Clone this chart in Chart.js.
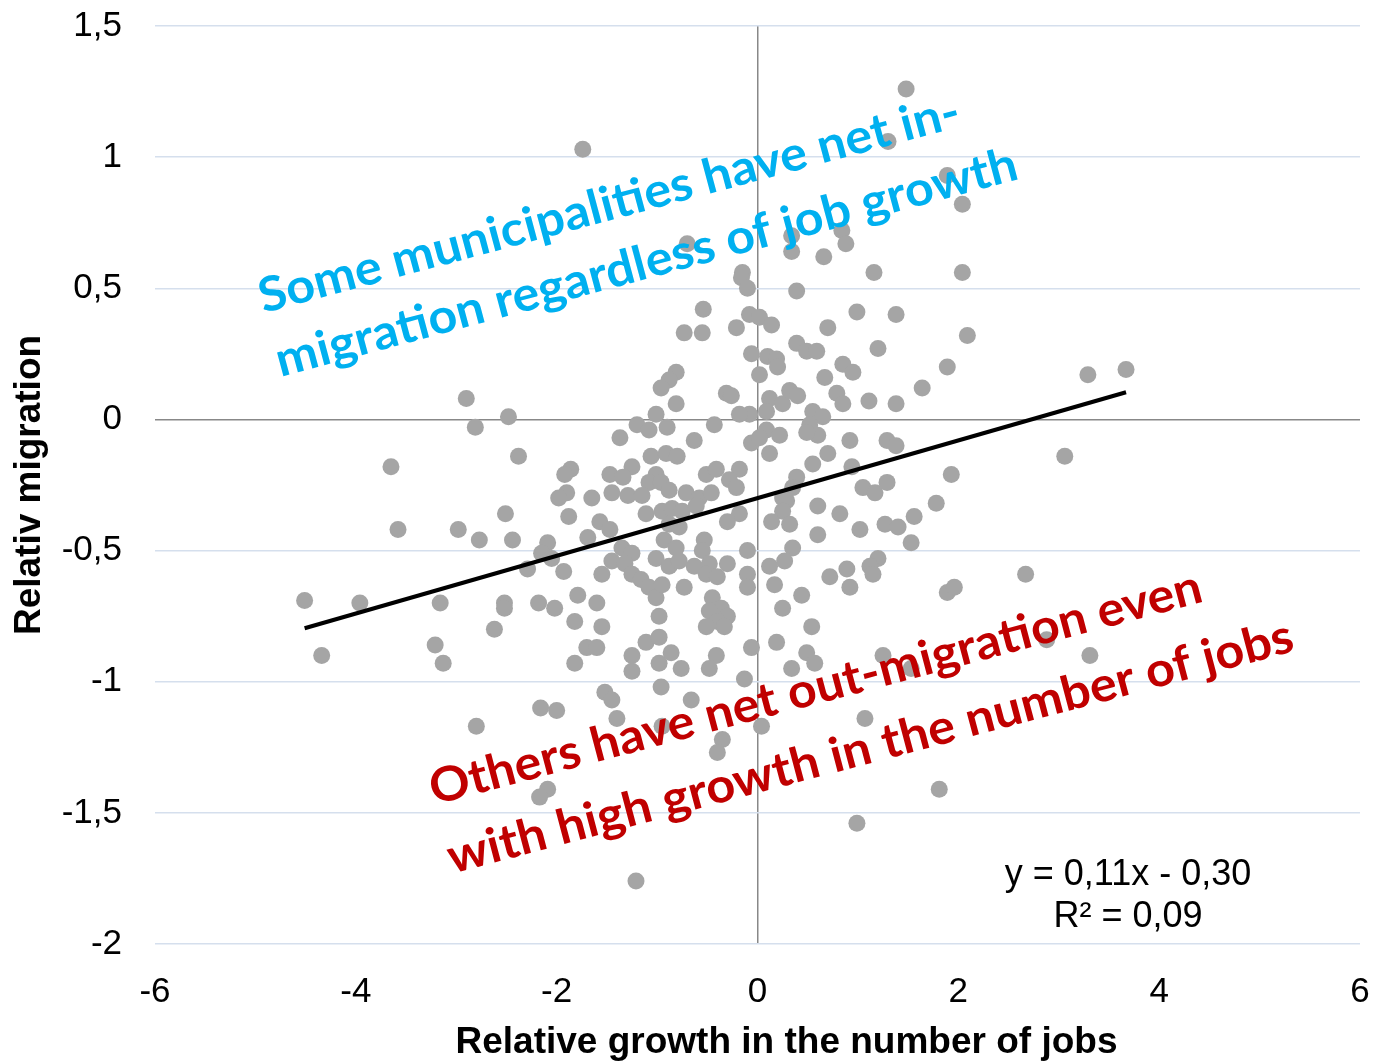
<!DOCTYPE html>
<html>
<head>
<meta charset="utf-8">
<script src="https://cdn.jsdelivr.net/npm/chart.js@4/dist/chart.umd.min.js"></script>
<style>
  html, body { margin: 0; padding: 0; background: #ffffff; }
  #wrap { width: 1383px; height: 1064px; position: relative; }
</style>
</head>
<body>
<div id="wrap"><canvas id="chart"></canvas></div>
<script>
// Relative growth in the number of jobs (x) per municipality
const jobGrowth = [
  1.48, -1.74, 1.30, 1.89, 2.04, -0.70, 0.34, 0.34, 0.66, 0.84,
  0.88, -0.15, -0.16, -0.10, 0.39, -0.54, 0.99, -0.73, -0.55, -0.21,
  -0.08, 0.02, 0.14, 0.70, 1.16, 2.04, 1.38, 2.09, -0.06, 0.10,
  0.19, 0.20, 0.02, 0.39, 0.49, 0.59, 0.85, 0.95, 0.67, 0.79,
  0.85, -0.81, -0.88, -0.96, -0.81, -0.31, -0.26, 0.12, 0.25, 0.32,
  0.40, 0.09, -0.08, -0.18, 0.55, 0.65, 0.52, 0.60, 0.49, -1.01,
  -1.20, -1.08, -0.90, -0.43, -1.37, -0.63, 0.09, 0.22, -0.06, 0.02,
  0.12, 0.92, -1.06, -0.91, -0.80, 0.70, 0.55, -1.47, -1.25, -1.34,
  -0.51, -0.41, -0.18, 0.94, -1.01, -1.08, -0.96, 0.39, 0.35, 0.25,
  -0.28, -0.21, -1.45, -1.29, -1.65, -1.15, -0.88, -0.71, -0.58, -0.46,
  0.60, 0.82, 0.29, 0.25, -1.11, -0.95, -0.85, -0.75, -0.61, -0.18,
  -0.30, -1.57, -1.47, 0.14, 0.32, -0.88, -0.78, -1.69, 0.60, -1.35,
  -1.25, -0.93, -0.81, -0.53, -0.55, -0.10, 0.35, 0.27, -1.45, -1.32,
  -1.01, -0.88, -0.78, -0.63, -0.48, -0.51, -0.40, -0.30, -0.10, -0.10,
  0.12, 0.17, 0.72, 0.89, 0.92, -1.55, -1.25, -1.16, -1.08, -1.01,
  -0.95, -0.73, -1.60, 0.44, 0.25, -0.45, -0.36, -0.30, -0.48, -0.40,
  -0.98, -1.55, -0.51, -0.33, 0.54,
  -2.90, -2.48, -2.81, -3.65, -2.38, -1.86, -1.92, -1.90, -1.98, -1.88,
  -2.51, -3.58, -2.98, -2.77, -2.44, -2.09, -2.15, -2.05, -2.29, -1.93,
  -4.51, -3.96, -3.16, -2.52, -2.52, -2.18, -2.02, -1.79,
  -4.34, -3.21, -3.13, -2.62, -1.82, -1.82, -2.80, -2.16, -2.00, -2.09, -2.17,
  0.19, -0.06, -1.70, -1.60, -1.25, -1.11, -0.98, -0.86, -1.25, -0.98,
  -0.76, -0.41, -0.48, 0.34, 0.49, 0.57, -0.13, -1.52, -1.45, -1.40,
  -0.96, -0.66, -0.95, -0.35, -0.40, 0.04, 0.99, -1.21,
  1.20, 1.64, 1.89, 1.11, 1.38, 3.29, 3.67, 1.29, 1.38, 3.06,
  1.93, 1.05, 1.17, 1.29, 1.78, 1.02, 1.27, 1.40, 1.56, 1.53,
  1.20, 1.12, 1.15, 2.67, 1.89, 1.96, 1.25, 1.53, 1.07, 1.81,
  2.88, 3.31
];

// Relative migration (y) per municipality, same order
const migration = [
  1.26, 1.03, 1.06, 0.93, 0.82, 0.67, 0.70, 0.64, 0.62, 0.72,
  0.67, 0.56, 0.54, 0.50, 0.49, 0.42, 0.41, 0.33, 0.33, 0.35,
  0.40, 0.39, 0.36, 0.35, 0.56, 0.56, 0.40, 0.32, 0.25, 0.24,
  0.23, 0.20, 0.17, 0.29, 0.26, 0.26, 0.21, 0.18, 0.16, 0.10,
  0.06, 0.18, 0.15, 0.12, 0.06, 0.10, 0.09, 0.08, 0.06, 0.11,
  0.09, 0.03, 0.02, 0.02, 0.03, 0.01, -0.02, -0.06, -0.05, 0.02,
  -0.02, -0.04, -0.03, -0.02, -0.07, -0.08, -0.04, -0.06, -0.09, -0.07,
  -0.13, -0.08, -0.14, -0.13, -0.14, -0.13, -0.17, -0.21, -0.18, -0.22,
  -0.21, -0.19, -0.19, -0.18, -0.21, -0.24, -0.24, -0.22, -0.26, -0.30,
  -0.23, -0.26, -0.28, -0.29, -0.30, -0.29, -0.27, -0.28, -0.30, -0.28,
  -0.33, -0.36, -0.31, -0.35, -0.36, -0.35, -0.34, -0.35, -0.33, -0.36,
  -0.39, -0.39, -0.42, -0.39, -0.40, -0.40, -0.41, -0.45, -0.44, -0.49,
  -0.51, -0.46, -0.49, -0.46, -0.50, -0.50, -0.49, -0.54, -0.54, -0.55,
  -0.53, -0.56, -0.54, -0.56, -0.55, -0.59, -0.60, -0.55, -0.59, -0.64,
  -0.56, -0.63, -0.60, -0.57, -0.64, -0.59, -0.59, -0.61, -0.64, -0.68,
  -0.63, -0.64, -0.70, -0.67, -0.72, -0.68, -0.72, -0.75, -0.73, -0.77,
  -0.75, -0.79, -0.79, -0.79, -0.79,
  0.08, 0.01, -0.03, -0.18, -0.14, -0.19, -0.21, -0.28, -0.30, -0.37,
  -0.36, -0.42, -0.42, -0.46, -0.46, -0.47, -0.51, -0.53, -0.57, -0.58,
  -0.69, -0.70, -0.70, -0.70, -0.72, -0.70, -0.72, -0.67,
  -0.90, -0.86, -0.93, -0.80, -0.77, -0.93, -1.17, -1.10, -1.11, -1.41, -1.44,
  -0.85, -0.87, -0.87, -0.87, -0.90, -0.85, -0.83, -0.89, -0.96, -0.93,
  -0.95, -0.90, -0.95, -0.95, -0.89, -0.93, -0.99, -1.04, -1.07, -1.14,
  -1.02, -1.07, -1.17, -1.22, -1.27, -1.17, -1.54, -1.76,
  0.27, 0.12, 0.20, 0.07, 0.06, 0.17, 0.19, -0.08, -0.10, -0.14,
  -0.21, -0.26, -0.28, -0.24, -0.32, -0.42, -0.40, -0.41, -0.37, -0.47,
  -0.53, -0.56, -0.59, -0.59, -0.66, -0.64, -0.90, -0.95, -1.14, -1.41,
  -0.84, -0.90
];

// Axis tick labels (comma decimals)
const xTickLabels = ['-6', '-4', '-2', '0', '2', '4', '6'];
const yTickLabels = ['-2', '-1,5', '-1', '-0,5', '0', '0,5', '1', '1,5'];

// Linear trend: y = 0,11x - 0,30, R² = 0,09
const trendSlope = 0.11;
const trendIntercept = -0.30;
const trendLabel = ['y = 0,11x - 0,30', 'R² = 0,09'];

// Axis titles and callout texts
const xTitle = 'Relative growth in the number of jobs';
const yTitle = 'Relativ migration';
const noteInMigration = ['Some municipalities have net in-', 'migration regardless of job growth'];
const noteOutMigration = ['Others have net out-migration even', 'with high growth in the number of jobs'];

const points = jobGrowth.map((x, i) => ({ x: x, y: migration[i] }));
const xMin = Math.min(...jobGrowth);
const xMax = Math.max(...jobGrowth);
const trendPoints = [
  { x: xMin, y: trendSlope * xMin + trendIntercept },
  { x: xMax, y: trendSlope * xMax + trendIntercept }
];

const BASE_FONT = "'Liberation Sans', Arial, sans-serif";

// Draws the rotated callouts, the trend equation and the x-axis title
const calloutPlugin = {
  id: 'callouts',
  afterDatasetsDraw(chart) {
    const { ctx, chartArea, scales: { x, y } } = chart;

    function rotatedBlock(lines, ax, ay, angleDeg, gap, widths, color) {
      ctx.save();
      ctx.translate(x.getPixelForValue(ax), y.getPixelForValue(ay));
      ctx.rotate(angleDeg * Math.PI / 180);
      ctx.fillStyle = color;
      ctx.font = "bold 48px Lato, 'Open Sans', sans-serif";
      ctx.textAlign = 'left';
      ctx.textBaseline = 'alphabetic';
      lines.forEach((t, i) => {
        const w = ctx.measureText(t).width;
        ctx.save();
        ctx.translate(0, i * gap);
        ctx.scale(widths[i] / w, 1);
        ctx.fillText(t, 0, 0);
        ctx.restore();
      });
      ctx.restore();
    }

    rotatedBlock(noteInMigration, -4.92, 0.405, -15, 66, [724, 766], '#00b0f0');
    rotatedBlock(noteOutMigration, -3.22, -1.47, -14.8, 71, [797, 873], '#c00000');

    ctx.save();
    ctx.fillStyle = '#000000';
    ctx.font = '36px ' + BASE_FONT;
    ctx.textAlign = 'center';
    ctx.textBaseline = 'middle';
    const ex = x.getPixelForValue(3.69);
    ctx.fillText(trendLabel[0], ex, y.getPixelForValue(-1.737));
    ctx.fillText(trendLabel[1], ex, y.getPixelForValue(-1.898));

    ctx.font = 'bold 37px ' + BASE_FONT;
    ctx.fillText(xTitle, (chartArea.left + chartArea.right) / 2 + 29, x.bottom - 21);
    ctx.restore();
  }
};

const gridColor = '#d5dfed';
const zeroColor = '#888888';

new Chart(document.getElementById('chart'), {
  data: {
    datasets: [
      {
        type: 'line',
        label: 'Trend',
        data: trendPoints,
        borderColor: '#000000',
        borderWidth: 4,
        pointRadius: 0,
        fill: false,
        order: 0
      },
      {
        type: 'scatter',
        label: 'Municipalities',
        data: points,
        backgroundColor: '#a5a5a5',
        borderWidth: 0,
        pointRadius: 8.5,
        pointHoverRadius: 8.5,
        order: 1
      }
    ]
  },
  options: {
    responsive: true,
    maintainAspectRatio: false,
    animation: false,
    devicePixelRatio: 1,
    events: [],
    layout: { padding: { left: 0, right: 23, top: 26, bottom: 0 } },
    plugins: {
      legend: { display: false },
      tooltip: { enabled: false }
    },
    scales: {
      x: {
        type: 'linear',
        min: -6,
        max: 6,
        afterFit: (s) => { s.height = 120; s.paddingLeft = 0; s.paddingRight = 0; },
        ticks: {
          stepSize: 2,
          autoSkip: false,
          maxRotation: 0,
          padding: 27,
          color: '#000000',
          font: { family: BASE_FONT, size: 35 },
          callback: (v, i) => xTickLabels[i]
        },
        grid: {
          drawTicks: false,
          lineWidth: 1.5,
          color: (c) => (c.tick && c.tick.value === 0 ? zeroColor : 'rgba(0,0,0,0)')
        },
        border: { display: false },
        title: { display: false }
      },
      y: {
        type: 'linear',
        min: -2,
        max: 1.5,
        afterFit: (s) => { s.width = 155; s.paddingTop = 0; s.paddingBottom = 0; },
        ticks: {
          stepSize: 0.5,
          autoSkip: false,
          padding: 33,
          color: '#000000',
          font: { family: BASE_FONT, size: 35 },
          callback: (v, i) => yTickLabels[i]
        },
        grid: {
          drawTicks: false,
          lineWidth: 1.5,
          color: (c) => (c.tick && c.tick.value === 0 ? zeroColor : gridColor)
        },
        border: { display: false },
        title: {
          display: true,
          text: yTitle,
          color: '#000000',
          font: { family: BASE_FONT, size: 37, weight: 'bold' },
          padding: { top: 8, bottom: 0 }
        }
      }
    }
  },
  plugins: [calloutPlugin]
});
</script>
</body>
</html>
